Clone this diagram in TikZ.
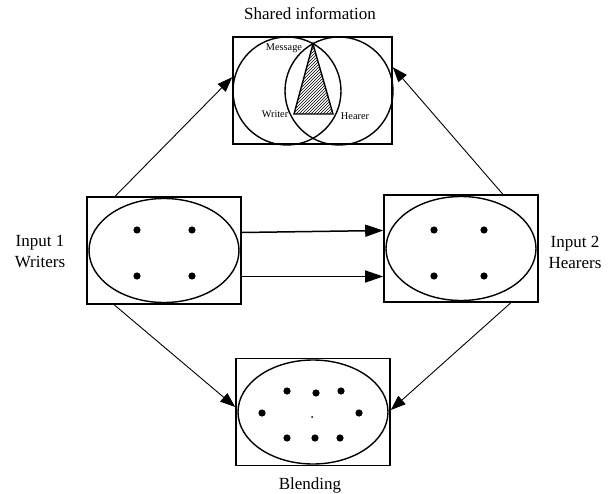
\documentclass[tikz,border=0pt]{standalone}
\usepackage{fontspec}
\setmainfont{Liberation Serif}
\usepackage{tikz}
\usetikzlibrary{positioning,arrows.meta,patterns,shapes.geometric}

\begin{document}
\begin{tikzpicture}[x=1pt,y=-1pt,
  panel/.style={draw,line width=1.6pt,minimum width=154pt,minimum height=107pt,inner sep=0pt},
  oval/.style={draw,ellipse,line width=1.4pt,minimum width=150pt,minimum height=104pt,inner sep=0pt},
  big/.style={font=\fontsize{17}{21}\selectfont,align=center},
  small/.style={font=\fontsize{10.3}{12}\selectfont,inner sep=0pt},
  link/.style={-{Triangle[length=15pt,width=11pt]},line width=0.9pt},
  flow/.style={-{Triangle[length=18pt,width=12pt]},line width=1.5pt}]

  \useasboundingbox (0,0) rectangle (615,494);

  
  \node[panel,minimum width=159pt] (shared) at (312.5,90.5) {};
  \node[panel] (writers) at (164,250.5) {};
  \node[panel] (hearers) at (461,248.5) {};
  \node[panel] (blend) at (313,412) {};

  \node[oval] (writersOval) at (writers) {};
  \node[oval] (hearersOval) at (hearers) {};
  \node[oval] (blendOval) at (blend) {};

  
  \draw[line width=1.4pt] (287,91) circle[radius=54pt];
  \draw[line width=1.4pt] (339,91) circle[radius=54pt];
  \draw[line width=1.4pt,pattern=north east lines] (313,44) -- (294,114) -- (333,114) -- cycle;
  \node[small] (message) at (284,48) {Message};
  \node[small] (writer) at (275,114) {Writer};
  \node[small] (hearer) at (355,116) {Hearer};

  
  \foreach \x in {137,192}
    \foreach \y in {230,276}
      \fill (\x,\y) circle[radius=3.6pt];
  \foreach \x in {434,484}
    \foreach \y in {230,276}
      \fill (\x,\y) circle[radius=3.6pt];
  \foreach \x/\y in {287/391,316/393,341/391,262/413,359/413,287/438,315/438,340/438}
    \fill (\x,\y) circle[radius=3.6pt];
  \fill (312,417) circle[radius=1pt];

  
  \node[big] (sharedLabel) at (310,14) {Shared information};
  \node[big] (input1) at (40,252) {Input 1\\Writers};
  \node[big] (input2) at (575,252) {Input 2\\Hearers};
  \node[big] (blendLabel) at (310,485) {Blending};

  
  \draw[link] ([xshift=29pt]writers.north west) -- ([yshift=-41pt]shared.north west);
  \draw[link] ([xshift=-36pt]hearers.north east) -- ([yshift=-31pt]shared.north east);
  \draw[link] ([xshift=28pt]writers.south west) -- ([yshift=5pt]blend.west);
  \draw[link] ([xshift=-28pt]hearers.south east) -- ([yshift=2pt]blend.east);
  \draw[flow] ([yshift=18pt]writers.east) -- ([yshift=18pt]hearers.west);
  \draw[flow] ([yshift=-26pt]writers.east) -- ([yshift=-28pt]hearers.west);
\end{tikzpicture}
\end{document}
